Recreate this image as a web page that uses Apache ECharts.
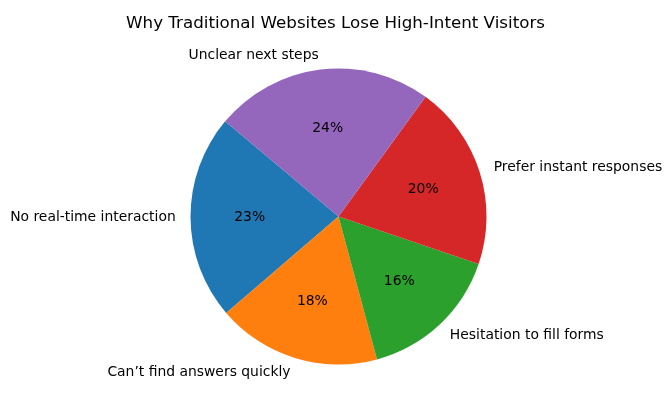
<!DOCTYPE html>
<html>
<head>
<meta charset="utf-8">
<script src="https://cdn.jsdelivr.net/npm/echarts@6/dist/echarts.min.js"></script>
<style>
  html, body { margin: 0; padding: 0; background: #fff; }
  #chart { width: 671px; height: 411px; }
</style>
</head>
<body>
<div id="chart"></div>
<script>
// data (slice shares, labels as printed)
var categories = ['No real-time interaction', 'Can\u2019t find answers quickly', 'Hesitation to fill forms', 'Prefer instant responses', 'Unclear next steps'];
var shares = [22.4, 17.9, 15.6, 20.2, 23.9];
var pctLabels = ['23%', '18%', '16%', '20%', '24%'];
var colors = ['#1f77b4', '#ff7f0e', '#2ca02c', '#d62728', '#9467bd'];

var cx = 338.5, cy = 216.5, R = 148;
var font = 'DejaVu Sans';

var pieData = categories.map(function (name, i) {
  return { name: name, value: shares[i], itemStyle: { color: colors[i] } };
});
// transparent copy, only used to place the percentages at 0.6 R
// (echarts pushes inside labels 3px outward, so r0 is trimmed by 6)
var pctData = categories.map(function (name, i) {
  return { name: name, value: shares[i], pct: pctLabels[i] };
});

var chart = echarts.init(document.getElementById('chart'), null, { renderer: 'canvas' });

var option = {
  animation: false,
  backgroundColor: '#fff',
  title: {
    text: 'Why Traditional Websites Lose High-Intent Visitors',
    left: 'center',
    top: 10,
    textStyle: { fontFamily: font, fontSize: 16.7, fontWeight: 'normal', color: '#000' }
  },
  series: [
    {
      type: 'pie',
      center: [cx, cy],
      radius: [0, R],
      startAngle: 140,
      clockwise: false,
      avoidLabelOverlap: false,
      silent: true,
      itemStyle: { borderWidth: 0 },
      emphasis: { disabled: true },
      label: {
        show: true,
        position: 'outside',
        distanceToLabelLine: 0,
        fontFamily: font,
        fontSize: 13.9,
        color: '#000',
        formatter: '{b}'
      },
      labelLine: { show: false, length: 0.1 * R, length2: 0 },
      data: pieData
    },
    {
      type: 'pie',
      center: [cx, cy],
      radius: [0.2 * R - 6, R],
      startAngle: 140,
      clockwise: false,
      avoidLabelOverlap: false,
      silent: true,
      z: 5,
      itemStyle: { color: 'rgba(0,0,0,0)', borderWidth: 0 },
      emphasis: { disabled: true },
      label: {
        show: true,
        position: 'inside',
        fontFamily: font,
        fontSize: 13.9,
        color: '#000',
        formatter: function (p) { return p.data.pct; }
      },
      labelLine: { show: false },
      data: pctData
    }
  ]
};

chart.setOption(option);
</script>
</body>
</html>
